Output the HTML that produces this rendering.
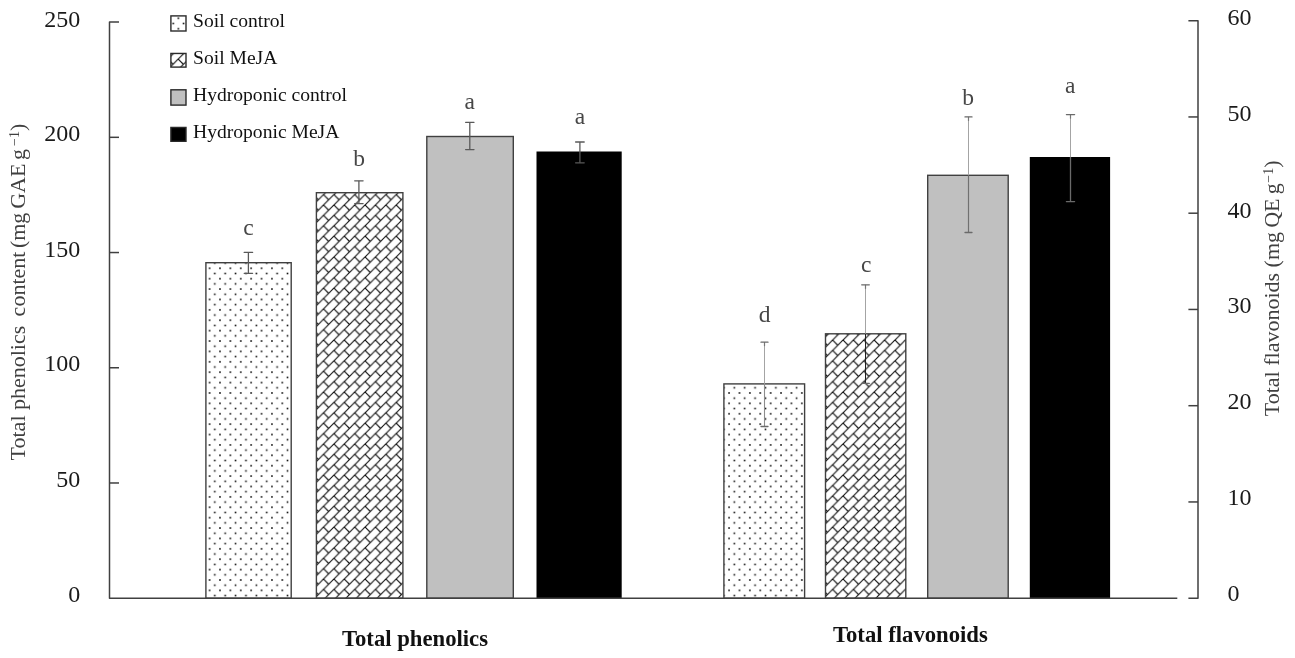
<!DOCTYPE html>
<html><head><meta charset="utf-8"><style>
html,body{margin:0;padding:0;background:#fff;}
svg{display:block;filter:grayscale(100%);}
text{font-family:"Liberation Serif",serif;}
</style></head><body>
<svg width="1295" height="658" viewBox="0 0 1295 658">
<rect width="1295" height="658" fill="#fff"/>
<defs>
<pattern id="dots" patternUnits="userSpaceOnUse" x="209.60" y="268.30" width="10.39" height="10.39"><g fill="#111"><rect x="-0.80" y="-0.80" width="1.6" height="1.6"/><rect x="9.59" y="-0.80" width="1.6" height="1.6"/><rect x="-0.80" y="9.59" width="1.6" height="1.6"/><rect x="9.59" y="9.59" width="1.6" height="1.6"/><rect x="4.40" y="4.40" width="1.6" height="1.6"/></g></pattern>
<pattern id="brick" patternUnits="userSpaceOnUse" x="323.50" y="205.00" width="10.39" height="10.39">
<g stroke="#111" stroke-width="1.15" fill="none">
<line x1="-2" y1="2" x2="2" y2="-2"/>
<line x1="-2" y1="12.39" x2="12.39" y2="-2"/>
<line x1="8.39" y1="12.39" x2="12.39" y2="8.39"/>
<line x1="0" y1="0" x2="5.20" y2="5.20"/>
<line x1="10.39" y1="0" x2="15.59" y2="5.20"/>
<line x1="0" y1="10.39" x2="5.20" y2="15.59"/>
<line x1="10.39" y1="10.39" x2="15.59" y2="15.59"/>
<line x1="-5.20" y1="-5.20" x2="0" y2="0"/>
<line x1="5.20" y1="-5.20" x2="10.39" y2="0"/>
<line x1="-5.20" y1="5.20" x2="0" y2="10.39"/>
</g></pattern>
<pattern id="ldots" patternUnits="userSpaceOnUse" x="178.40" y="18.30" width="10.39" height="10.39"><g fill="#111"><rect x="-0.80" y="-0.80" width="1.6" height="1.6"/><rect x="9.59" y="-0.80" width="1.6" height="1.6"/><rect x="-0.80" y="9.59" width="1.6" height="1.6"/><rect x="9.59" y="9.59" width="1.6" height="1.6"/><rect x="4.40" y="4.40" width="1.6" height="1.6"/></g></pattern>
<pattern id="lbrick" patternUnits="userSpaceOnUse" x="178.20" y="59.10" width="10.39" height="10.39">
<g stroke="#111" stroke-width="1.15" fill="none">
<line x1="-2" y1="2" x2="2" y2="-2"/>
<line x1="-2" y1="12.39" x2="12.39" y2="-2"/>
<line x1="8.39" y1="12.39" x2="12.39" y2="8.39"/>
<line x1="0" y1="0" x2="5.20" y2="5.20"/>
<line x1="10.39" y1="0" x2="15.59" y2="5.20"/>
<line x1="0" y1="10.39" x2="5.20" y2="15.59"/>
<line x1="10.39" y1="10.39" x2="15.59" y2="15.59"/>
<line x1="-5.20" y1="-5.20" x2="0" y2="0"/>
<line x1="5.20" y1="-5.20" x2="10.39" y2="0"/>
<line x1="-5.20" y1="5.20" x2="0" y2="10.39"/>
</g></pattern>
</defs>
<rect x="205.9" y="262.7" width="85.30" height="335.50" fill="#fff"/>
<rect x="205.9" y="262.7" width="85.30" height="335.50" fill="url(#dots)" stroke="#404040" stroke-width="1.4"/>
<rect x="316.4" y="192.7" width="86.50" height="405.50" fill="#fff"/>
<rect x="316.4" y="192.7" width="86.50" height="405.50" fill="url(#brick)" stroke="#404040" stroke-width="1.4"/>
<rect x="426.8" y="136.5" width="86.50" height="461.70" fill="#fff"/>
<rect x="426.8" y="136.5" width="86.50" height="461.70" fill="#c0c0c0" stroke="#404040" stroke-width="1.4"/>
<rect x="536.5" y="151.5" width="85.20" height="446.70" fill="#000"/>
<rect x="723.9" y="383.9" width="80.70" height="214.30" fill="#fff"/>
<rect x="723.9" y="383.9" width="80.70" height="214.30" fill="url(#dots)" stroke="#404040" stroke-width="1.4"/>
<rect x="825.5" y="333.8" width="80.30" height="264.40" fill="#fff"/>
<rect x="825.5" y="333.8" width="80.30" height="264.40" fill="url(#brick)" stroke="#404040" stroke-width="1.4"/>
<rect x="927.7" y="175.3" width="80.50" height="422.90" fill="#fff"/>
<rect x="927.7" y="175.3" width="80.50" height="422.90" fill="#c0c0c0" stroke="#404040" stroke-width="1.4"/>
<rect x="1029.8" y="157.0" width="80.30" height="441.20" fill="#000"/>
<g fill="none"><line x1="248.4" y1="252.4" x2="248.4" y2="273.3" stroke="#595959" stroke-width="1.3"/><g stroke="#595959" stroke-width="1.3" stroke-linecap="round"><line x1="244.20" y1="252.4" x2="252.60" y2="252.4"/><line x1="244.20" y1="273.3" x2="252.60" y2="273.3"/></g></g>
<g fill="none"><line x1="358.9" y1="180.8" x2="358.9" y2="203.6" stroke="#595959" stroke-width="1.3"/><g stroke="#595959" stroke-width="1.3" stroke-linecap="round"><line x1="354.70" y1="180.8" x2="363.10" y2="180.8"/><line x1="354.70" y1="203.6" x2="363.10" y2="203.6"/></g></g>
<g fill="none"><line x1="469.8" y1="122.3" x2="469.8" y2="149.6" stroke="#595959" stroke-width="1.3"/><g stroke="#595959" stroke-width="1.3" stroke-linecap="round"><line x1="465.60" y1="122.3" x2="474.00" y2="122.3"/><line x1="465.60" y1="149.6" x2="474.00" y2="149.6"/></g></g>
<g fill="none"><line x1="579.9" y1="142.0" x2="579.9" y2="162.8" stroke="#595959" stroke-width="1.3"/><g stroke="#595959" stroke-width="1.3" stroke-linecap="round"><line x1="575.60" y1="142.0" x2="584.20" y2="142.0"/><line x1="575.60" y1="162.8" x2="584.20" y2="162.8"/></g></g>
<line x1="764.5" y1="342.2" x2="764.5" y2="383.9" stroke="#a4a4a4" stroke-width="1"/>
<line x1="764.5" y1="342.2" x2="764.5" y2="346.2" stroke="#777" stroke-width="1.2"/>
<line x1="764.5" y1="383.9" x2="764.5" y2="426.5" stroke="#8c8c8c" stroke-width="1.1"/>
<g fill="none"><g stroke="#6a6a6a" stroke-width="1.3" stroke-linecap="round"><line x1="761.00" y1="342.2" x2="768.00" y2="342.2"/><line x1="761.00" y1="426.5" x2="768.00" y2="426.5"/></g></g>
<line x1="865.5" y1="284.8" x2="865.5" y2="333.8" stroke="#a4a4a4" stroke-width="1"/>
<line x1="865.5" y1="284.8" x2="865.5" y2="288.8" stroke="#777" stroke-width="1.2"/>
<line x1="865.5" y1="333.8" x2="865.5" y2="383.4" stroke="#202020" stroke-width="1.0"/>
<g fill="none"><g stroke="#6a6a6a" stroke-width="1.3" stroke-linecap="round"><line x1="861.70" y1="284.8" x2="869.30" y2="284.8"/><line x1="861.70" y1="383.4" x2="869.30" y2="383.4"/></g></g>
<line x1="968.5" y1="116.9" x2="968.5" y2="175.3" stroke="#a4a4a4" stroke-width="1"/>
<line x1="968.5" y1="116.9" x2="968.5" y2="120.9" stroke="#777" stroke-width="1.2"/>
<line x1="968.5" y1="175.3" x2="968.5" y2="232.5" stroke="#707070" stroke-width="1.2"/>
<g fill="none"><g stroke="#6a6a6a" stroke-width="1.3" stroke-linecap="round"><line x1="965.00" y1="116.9" x2="972.00" y2="116.9"/><line x1="965.00" y1="232.5" x2="972.00" y2="232.5"/></g></g>
<line x1="1070.5" y1="114.6" x2="1070.5" y2="157.0" stroke="#a4a4a4" stroke-width="1"/>
<line x1="1070.5" y1="114.6" x2="1070.5" y2="118.6" stroke="#777" stroke-width="1.2"/>
<line x1="1070.5" y1="157.0" x2="1070.5" y2="201.6" stroke="#6a6a6a" stroke-width="1.3"/>
<g fill="none"><g stroke="#6a6a6a" stroke-width="1.3" stroke-linecap="round"><line x1="1066.40" y1="114.6" x2="1074.60" y2="114.6"/><line x1="1066.40" y1="201.6" x2="1074.60" y2="201.6"/></g></g>
<g stroke="#404040" stroke-width="1.5" fill="none" stroke-linecap="butt" stroke-linejoin="round">
<path d="M119 22.1 H109.5 V598.2 H1177.3"/>
<line x1="109.5" y1="137.32" x2="119" y2="137.32"/>
<line x1="109.5" y1="252.54" x2="119" y2="252.54"/>
<line x1="109.5" y1="367.76" x2="119" y2="367.76"/>
<line x1="109.5" y1="482.98" x2="119" y2="482.98"/>
<path d="M1188.4 20.7 H1198 V598.2 H1188.4"/>
<line x1="1188.4" y1="116.95" x2="1198" y2="116.95"/>
<line x1="1188.4" y1="213.20" x2="1198" y2="213.20"/>
<line x1="1188.4" y1="309.45" x2="1198" y2="309.45"/>
<line x1="1188.4" y1="405.70" x2="1198" y2="405.70"/>
<line x1="1188.4" y1="501.95" x2="1198" y2="501.95"/>
</g>
<text x="80.3" y="27.0" font-size="24" text-anchor="end" fill="#1a1a1a">250</text>
<text x="80.3" y="141.0" font-size="24" text-anchor="end" fill="#1a1a1a">200</text>
<text x="80.3" y="256.8" font-size="24" text-anchor="end" fill="#1a1a1a">150</text>
<text x="80.3" y="371.0" font-size="24" text-anchor="end" fill="#1a1a1a">100</text>
<text x="80.3" y="486.8" font-size="24" text-anchor="end" fill="#1a1a1a">50</text>
<text x="80.3" y="601.5" font-size="24" text-anchor="end" fill="#1a1a1a">0</text>
<text x="1227.6" y="25.2" font-size="24" fill="#1a1a1a">60</text>
<text x="1227.6" y="121.0" font-size="24" fill="#1a1a1a">50</text>
<text x="1227.6" y="217.5" font-size="24" fill="#1a1a1a">40</text>
<text x="1227.6" y="312.7" font-size="24" fill="#1a1a1a">30</text>
<text x="1227.6" y="408.8" font-size="24" fill="#1a1a1a">20</text>
<text x="1227.6" y="505.0" font-size="24" fill="#1a1a1a">10</text>
<text x="1227.6" y="601.3" font-size="24" fill="#1a1a1a">0</text>
<text x="248.5" y="234.6" font-size="23.5" text-anchor="middle" fill="#474747">c</text>
<text x="359.2" y="166.3" font-size="23.5" text-anchor="middle" fill="#474747">b</text>
<text x="469.7" y="108.6" font-size="23.5" text-anchor="middle" fill="#474747">a</text>
<text x="580.0" y="124.1" font-size="23.5" text-anchor="middle" fill="#474747">a</text>
<text x="764.5" y="321.6" font-size="23.5" text-anchor="middle" fill="#474747">d</text>
<text x="866.2" y="272.4" font-size="23.5" text-anchor="middle" fill="#474747">c</text>
<text x="968.2" y="104.5" font-size="23.5" text-anchor="middle" fill="#474747">b</text>
<text x="1070.3" y="92.8" font-size="23.5" text-anchor="middle" fill="#474747">a</text>
<rect x="170.9" y="15.9" width="15.1" height="15.1" fill="#fff"/>
<rect x="170.9" y="15.9" width="15.1" height="15.1" fill="url(#ldots)" stroke="#2a2a2a" stroke-width="1.4"/>
<text x="193.0" y="26.50" font-size="19.6" fill="#111">Soil control</text>
<rect x="170.9" y="53.45" width="15.1" height="13.65" fill="#fff"/>
<rect x="170.9" y="53.45" width="15.1" height="13.65" fill="url(#lbrick)" stroke="#2a2a2a" stroke-width="1.4"/>
<text x="193.0" y="64.20" font-size="19.6" fill="#111">Soil MeJA</text>
<rect x="170.9" y="89.8" width="15.1" height="15.3" fill="#fff"/>
<rect x="170.9" y="89.8" width="15.1" height="15.3" fill="#c0c0c0" stroke="#2a2a2a" stroke-width="1.4"/>
<text x="193.0" y="100.60" font-size="19.6" fill="#111">Hydroponic control</text>
<rect x="170.9" y="127.45" width="15.1" height="13.85" fill="#fff"/>
<rect x="170.9" y="127.45" width="15.1" height="13.85" fill="#000" stroke="#2a2a2a" stroke-width="1.4"/>
<text x="193.0" y="138.10" font-size="19.6" fill="#111">Hydroponic MeJA</text>
<text x="415.0" y="645.8" font-size="22.7" font-weight="bold" text-anchor="middle" fill="#111">Total phenolics</text>
<text x="910.4" y="642.1" font-size="22.7" font-weight="bold" text-anchor="middle" fill="#111">Total flavonoids</text>
<text transform="translate(25.1,460.4) rotate(-90)" font-size="22" fill="#404040" xml:space="preserve">Total phenolics  <tspan dx="-1.7">content</tspan><tspan dx="-2.0"> (mg</tspan> <tspan dx="-1.7">GAE</tspan><tspan dx="-1.8"> g</tspan><tspan font-size="14" dx="3.0" dy="-6.2">−1</tspan><tspan dy="6.2">)</tspan></text>
<text transform="translate(1279.3,416.2) rotate(-90)" font-size="22" fill="#404040" xml:space="preserve">Total flavonoids (mg<tspan dx="-1.3"> QE</tspan><tspan dx="-1.3"> g</tspan><tspan font-size="14" dx="0.5" dy="-6.5">−1</tspan><tspan dy="6.5">)</tspan></text>
</svg></body></html>
